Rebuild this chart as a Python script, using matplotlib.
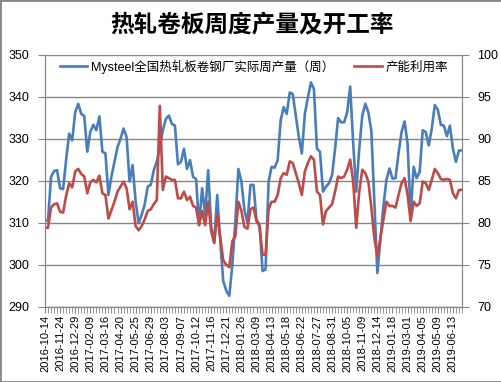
import numpy as np
import matplotlib.pyplot as plt
from matplotlib.patches import Rectangle

plt.rcParams['font.family'] = ['Liberation Sans', 'Noto Sans CJK SC']

# ---- data ----
date_labels = ['2016-10-14', '2016-11-24', '2016-12-29', '2017-02-09', '2017-03-16',
               '2017-04-20', '2017-05-25', '2017-06-29', '2017-08-03', '2017-09-07',
               '2017-10-12', '2017-11-16', '2017-12-21', '2018-01-26', '2018-03-09',
               '2018-04-13', '2018-05-18', '2018-06-22', '2018-07-27', '2018-08-31',
               '2018-10-05', '2018-11-09', '2018-12-14', '2019-01-18', '2019-03-01',
               '2019-04-05', '2019-05-09', '2019-06-13']

# weekly output (left axis)
output = [310.5, 310.5, 320.9, 322.3, 322.5, 318.2, 318.0, 325.0, 331.2, 329.6,
          336.3, 338.3, 335.9, 335.4, 326.9, 331.6, 333.3, 332.0, 335.3, 326.9,
          326.5, 316.6, 321.0, 324.5, 328.0, 330.0, 332.4, 330.4, 319.8, 323.7,
          315.0, 309.9, 311.9, 314.3, 318.6, 319.0, 322.5, 324.5, 328.0, 332.0,
          334.7, 335.5, 333.5, 333.1, 323.9, 324.5, 327.6, 322.8, 324.9, 320.9,
          320.4, 309.5, 318.2, 311.9, 322.5, 309.1, 305.2, 316.6, 305.6, 296.1,
          293.8, 292.6, 300.0, 310.4, 322.8, 319.8, 313.0, 310.0, 319.0, 319.0,
          310.7, 309.5, 298.5, 298.9, 319.8, 323.3, 323.1, 324.9, 334.4, 337.5,
          335.9, 341.0, 340.6, 335.5, 330.4, 326.5, 335.9, 339.8, 343.4, 341.8,
          327.6, 326.9, 317.4, 318.6, 319.4, 321.3, 327.6, 334.9, 333.9, 333.9,
          336.3, 342.4, 328.8, 317.4, 327.6, 335.5, 338.3, 336.3, 331.9, 314.9,
          298.0, 306.0, 314.0, 320.2, 322.9, 320.5, 320.6, 326.5, 331.6, 334.1,
          328.8, 311.9, 323.3, 320.6, 322.1, 332.0, 331.6, 328.4, 332.4, 338.0,
          336.9, 333.3, 333.1, 330.6, 333.1, 327.6, 324.5, 327.2, 327.2]

# capacity utilization % (right axis)
utilization = [79.4, 79.4, 81.8, 82.2, 82.3, 81.3, 81.2, 83.2, 84.7, 84.2,
               86.1, 86.4, 85.8, 85.5, 83.5, 84.8, 85.1, 84.8, 85.6, 83.5,
               83.3, 80.5, 81.5, 82.5, 83.7, 84.3, 84.9, 84.1, 81.6, 82.5,
               79.6, 79.1, 79.6, 80.4, 81.4, 81.6, 82.2, 82.7, 93.9, 83.9,
               85.5, 85.3, 85.1, 85.1, 82.9, 82.9, 83.7, 82.7, 83.1, 82.0,
               81.8, 79.7, 81.4, 79.7, 82.5, 79.0, 77.6, 81.0, 78.2, 75.5,
               75.0, 74.7, 77.8, 78.4, 82.5, 81.4, 79.5, 79.3, 81.6, 81.8,
               80.2, 79.6, 76.2, 76.2, 81.6, 82.5, 82.5, 83.3, 85.3, 85.9,
               85.7, 87.3, 87.1, 85.9, 84.7, 83.3, 86.1, 87.1, 87.9, 87.5,
               83.7, 83.3, 79.8, 81.4, 81.8, 82.2, 83.7, 85.5, 85.3, 85.5,
               86.3, 87.5, 84.9, 79.4, 83.7, 86.3, 85.9, 84.9, 81.8, 78.2,
               76.0, 78.2, 80.4, 82.5, 82.0, 82.0, 81.8, 83.3, 84.7, 85.3,
               83.3, 80.2, 82.5, 82.0, 82.3, 84.9, 84.7, 83.9, 85.1, 86.4,
               85.9, 85.2, 85.1, 85.2, 85.1, 83.5, 82.9, 83.9, 83.9]

blue = '#4A7EBB'
red = '#BE4B48'
gray = '#868686'

fig = plt.figure(figsize=(5.02, 3.82), dpi=100)
ax = fig.add_axes([0.0896, 0.197, 0.8307, 0.66])
ax2 = ax.twinx()

x = np.arange(len(output))
l1, = ax.plot(x, output, color=blue, lw=1.9, label='Mysteel全国热轧板卷钢厂实际周产量（周）')
l2, = ax2.plot(x, utilization, color=red, lw=1.9, label='产能利用率')

ax.set_xlim(0, len(x) - 1)
ax.set_ylim(290, 350)
ax.set_yticks(range(290, 351, 10))
ax2.set_ylim(70, 100)
ax2.set_yticks(range(70, 101, 5))

ax.set_xticks(x, minor=True)
ax.set_xticks(x[::5])
ax.set_xticklabels(date_labels, rotation=90, fontsize=8)

ax.yaxis.grid(True, color=gray, lw=1)
ax.set_axisbelow(True)

for a in (ax, ax2):
    a.spines['top'].set_visible(False)
    for s in ('left', 'right', 'bottom'):
        a.spines[s].set_color(gray)
ax.tick_params(axis='y', direction='out', length=5, color=gray, labelsize=9, pad=6)
ax2.tick_params(axis='y', direction='out', length=5, color=gray, labelsize=9, pad=6)
ax.tick_params(axis='x', which='both', direction='out', length=4, color=gray, pad=2)

ax2.legend(handles=[l1, l2], loc='center left', bbox_to_anchor=(0.02, 0.952),
           ncol=2, frameon=False, fontsize=9, borderpad=0, handlelength=2.2,
           handletextpad=0.3, columnspacing=1.6)

fig.text(0.502, 1 - 25 / 382, '热轧卷板周度产量及开工率', ha='center', va='center',
         fontsize=17, fontweight='bold', family='Noto Sans CJK SC')

fig.patches.append(Rectangle((0, 0), 1, 1, transform=fig.transFigure, fill=False,
                             ec=gray, lw=2))

fig.savefig('out.png', dpi=100)
